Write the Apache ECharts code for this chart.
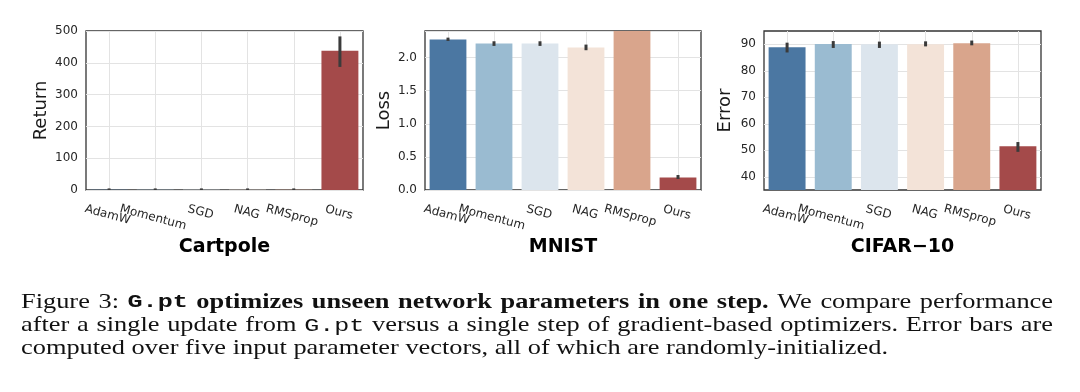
<!DOCTYPE html>
<html><head><meta charset="utf-8">
<script src="https://cdn.jsdelivr.net/npm/echarts@6/dist/echarts.min.js"></script>
<style>html,body{margin:0;padding:0;background:#fff}#c{width:1080px;height:392px}</style>
</head><body><div id="c"></div>
<script>
// ---------- data ----------
const categories = ['AdamW', 'Momentum', 'SGD', 'NAG', 'RMSprop', 'Ours'];
const cartpoleReturn = [1, 1, 1, 1, 1, 438];
const cartpoleErrLow = [0, 0, 0, 0, 0, 387];
const cartpoleErrHigh = [5, 5, 5, 5, 5, 483];
const mnistLoss = [2.27, 2.21, 2.21, 2.15, 2.6, 0.19];
const mnistErrLow = [2.25, 2.175, 2.175, 2.11, 2.55, 0.166];
const mnistErrHigh = [2.30, 2.245, 2.245, 2.195, 2.65, 0.226];
const cifarError = [88.9, 90.1, 90.0, 90.0, 90.4, 51.5];
const cifarErrLow = [86.9, 88.6, 88.6, 89.2, 89.6, 49.4];
const cifarErrHigh = [90.6, 91.2, 91.0, 91.1, 91.4, 53.1];
const panelTitles = ['Cartpole', 'MNIST', 'CIFAR\u221210'];
const yNames = ['Return', 'Loss', 'Error'];
const captionLines = [
  [['Figure 3:', 'r'], ['G.pt', 'mb'], ['optimizes unseen network parameters in one step.', 'b'], ['We compare performance', 'r']],
  [['after a single update from', 'r'], ['G.pt', 'm'], ['versus a single step of gradient-based optimizers. Error bars are', 'r']],
  [['computed over five input parameter vectors, all of which are randomly-initialized.', 'r']]
];

// ---------- style ----------
const palette = ['#4b77a2', '#9abbd1', '#dce5ed', '#f3e3d8', '#d9a58c', '#a44a4a'];
const grids = [
  {left: 86, top: 31, width: 277, height: 159},
  {left: 425, top: 31, width: 276, height: 159},
  {left: 764, top: 31, width: 277, height: 159}
];
const tickColor = '#262626';
const gridColor = '#e3e3e3';

const mctx = document.createElement('canvas').getContext('2d');
mctx.font = '12px "DejaVu Sans"';
const sin15 = Math.sin(15 * Math.PI / 180);
const rich = {};
categories.forEach((c, i) => {
  const w = mctx.measureText(c).width;
  rich['c' + i] = {padding: [w * sin15, 0, 0, 0], fontSize: 12, fontFamily: 'DejaVu Sans', color: tickColor};
});

function xAxis(i) {
  return {
    type: 'category', gridIndex: i, data: categories,
    axisLine: {show: false}, axisTick: {show: false},
    splitLine: {show: true, alignWithLabel: true, lineStyle: {color: gridColor, width: 1}},
    axisLabel: {
      rotate: -15, align: 'center', verticalAlign: 'middle', margin: 19, interval: 0,
      formatter: (v, idx) => '{c' + idx + '|' + v + '}', rich: rich
    }
  };
}
function yAxis(i, o) {
  return Object.assign({
    type: 'value', gridIndex: i, name: yNames[i], nameLocation: 'middle',
    nameTextStyle: {fontSize: 18, fontFamily: 'DejaVu Sans', color: '#1a1a1a'},
    axisLine: {show: false}, axisTick: {show: false},
    splitLine: {show: true, lineStyle: {color: gridColor, width: 1}},
    axisLabel: {fontSize: 12, fontFamily: 'DejaVu Sans', color: tickColor, margin: 8}
  }, o);
}
function barSeries(i, vals) {
  return {
    type: 'bar', xAxisIndex: i, yAxisIndex: i, barWidth: '80%',
    data: vals.map((v, k) => ({value: v, itemStyle: {color: palette[k]}})),
    silent: true
  };
}
function errSeries(i, lo, hi) {
  return {
    type: 'custom', xAxisIndex: i, yAxisIndex: i, clip: true, z: 5, silent: true,
    data: lo.map((l, k) => [k, l, hi[k]]),
    encode: {x: 0, y: [1, 2]},
    renderItem: (params, api) => {
      const a = api.coord([api.value(0), api.value(1)]);
      const b = api.coord([api.value(0), api.value(2)]);
      return {type: 'line', shape: {x1: a[0], y1: a[1], x2: b[0], y2: b[1]},
        style: {stroke: '#3b3b3b', lineWidth: 3}};
    }
  };
}

// ---------- caption layout (justified, horizontally stretched like the reference) ----------
const fonts = {
  r: {fontFamily: 'Liberation Serif', fontWeight: 'normal', fontSize: 22, scale: 1},
  b: {fontFamily: 'Liberation Serif', fontWeight: 'bold', fontSize: 22, scale: 1},
  m: {fontFamily: 'Liberation Mono', fontWeight: 'normal', fontSize: 19, scale: 1.1},
  mb: {fontFamily: 'Liberation Mono', fontWeight: 'bold', fontSize: 19, scale: 1.1}
};
function rawMeasure(t, f) {
  mctx.font = f.fontWeight + ' ' + f.fontSize + 'px "' + f.fontFamily + '"';
  return mctx.measureText(t).width;
}
const capLeft = 21, capRight = 1053, lastLineRight = 888;
const capScale = (lastLineRight - capLeft) / rawMeasure(captionLines[2][0][0], fonts.r);
const capMid = [302.5, 325.5, 348.5];
const graphics = [];
captionLines.forEach((line, li) => {
  const words = [];
  line.forEach(([t, s]) => t.split(' ').forEach(w => words.push({t: w, f: fonts[s]})));
  words.forEach(w => { w.sx = capScale * w.f.scale; w.w = rawMeasure(w.t, w.f) * w.sx; });
  const total = words.reduce((a, w) => a + w.w, 0);
  const justify = li < captionLines.length - 1;
  const gap = justify ? Math.max(2, (capRight - capLeft - total) / (words.length - 1))
                      : rawMeasure(' ', fonts.r) * capScale;
  let x = capLeft;
  words.forEach(w => {
    graphics.push({type: 'text', x: x, y: capMid[li], scaleX: w.sx, silent: true,
      style: {text: w.t, fontFamily: w.f.fontFamily, fontWeight: w.f.fontWeight, fontSize: w.f.fontSize,
        fill: '#111', align: 'left', verticalAlign: 'middle'}});
    x += w.w + gap;
  });
});
grids.forEach((g, i) => {
  graphics.push({type: 'text', x: g.left + g.width / 2, y: 247, silent: true,
    style: {text: panelTitles[i], fontFamily: 'DejaVu Sans', fontWeight: 'bold', fontSize: 19,
      fill: '#000', align: 'center', verticalAlign: 'middle'}});
});

const chart = echarts.init(document.getElementById('c'), null, {renderer: 'canvas'});
chart.setOption({
  animation: false,
  backgroundColor: '#fff',
  grid: grids.map(g => Object.assign({show: true, borderColor: '#333', borderWidth: 1.3, backgroundColor: 'transparent'}, g)),
  xAxis: [xAxis(0), xAxis(1), xAxis(2)],
  yAxis: [
    yAxis(0, {min: 0, max: 500, interval: 100, nameGap: 36}),
    yAxis(1, {min: 0, max: 2.4, interval: 0.5, nameGap: 32,
      axisLabel: {fontSize: 12, fontFamily: 'DejaVu Sans', color: tickColor, margin: 8, showMaxLabel: false,
        formatter: v => v.toFixed(1)}}),
    yAxis(2, {min: 35, max: 95, interval: 5, nameGap: 30,
      splitLine: {show: true, lineStyle: {color: ['rgba(0,0,0,0)', gridColor], width: 1}},
      axisLabel: {fontSize: 12, fontFamily: 'DejaVu Sans', color: tickColor, margin: 8,
        formatter: v => (Math.round(v) % 10 === 0 ? String(Math.round(v)) : '')}})
  ],
  series: [
    barSeries(0, cartpoleReturn), errSeries(0, cartpoleErrLow, cartpoleErrHigh),
    barSeries(1, mnistLoss), errSeries(1, mnistErrLow, mnistErrHigh),
    barSeries(2, cifarError), errSeries(2, cifarErrLow, cifarErrHigh)
  ],
  graphic: graphics
});
</script></body></html>
